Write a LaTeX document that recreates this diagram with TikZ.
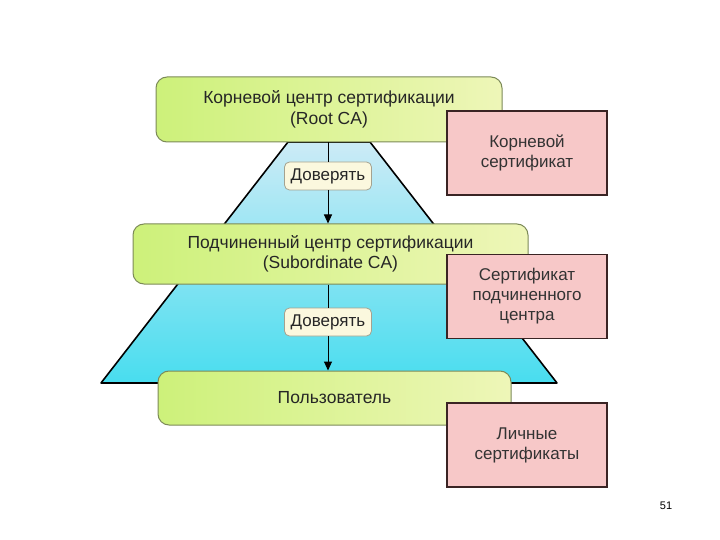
\documentclass[tikz,border=0pt]{standalone}
\usepackage{fontspec}
\setmainfont{Liberation Sans}
\usepackage{tikz}
\usetikzlibrary{arrows.meta}
\definecolor{boxgreenL}{HTML}{CDF17A}
\definecolor{boxgreenR}{HTML}{EEF6B8}
\definecolor{boxedge}{HTML}{7C8A58}
\definecolor{certpink}{HTML}{F7C8C8}
\definecolor{certedge}{HTML}{3A2424}
\definecolor{trustfill}{HTML}{FBF8DE}
\definecolor{trustedge}{HTML}{A4A290}
\definecolor{pyrtop}{HTML}{CCEBF6}
\definecolor{pyrbot}{HTML}{48DDEF}
\tikzstyle{cabox}=[draw=boxedge,line width=1pt,rounded corners=11pt,left color=boxgreenL,right color=boxgreenR,align=center,font=\fontsize{17.5}{20.5}\selectfont,text=black!85]
\tikzstyle{certbox}=[draw=certedge,line width=1.6pt,fill=certpink,minimum width=160pt,minimum height=84pt,align=center,font=\fontsize{17}{20}\selectfont,text=black!80]
\tikzstyle{trustbox}=[draw=trustedge,line width=0.8pt,rounded corners=5pt,fill=trustfill,minimum width=87pt,minimum height=28pt,font=\fontsize{17}{20}\selectfont,text=black!85]

\begin{document}
\begin{tikzpicture}[x=1pt,y=-1pt]
\useasboundingbox (0,0) rectangle (720,540);
% pyramid behind the boxes
\shade[top color=pyrtop,bottom color=pyrbot,draw=black,line width=1.6pt,line join=round] (288,142)--(370,142)--(557,383)--(101,383)--cycle;
% centres
\node[cabox,minimum width=346pt,minimum height=65pt] (root) at (329,109.5) {Корневой центр сертификации\\(Root CA)};
\node[cabox,minimum width=395pt,minimum height=60pt] (sub) at (330.5,254) {Подчиненный центр сертификации\\(Subordinate CA)};
\node[cabox,minimum width=353pt,minimum height=54pt] (user) at (334.5,398) {Пользователь};
% certificates
\node[certbox] (rootcert) at (527,153) {Корневой\\сертификат};
\node[certbox] (subcert) at (527,296.5) {Сертификат\\подчиненного\\центра};
\node[certbox] (usercert) at (527,445) {Личные\\сертификаты};
% trust arrows
\node[trustbox] (trust1) at (328,176) {Доверять};
\node[trustbox] (trust2) at (328,322) {Доверять};
\draw[line width=1pt] (root.south -| trust1) -- (trust1.north);
\draw[line width=1pt,-{Triangle[length=9pt,width=8pt]}] (trust1.south) -- (trust1 |- sub.north);
\draw[line width=1pt] (sub.south -| trust2) -- (trust2.north);
\draw[line width=1pt,-{Triangle[length=9pt,width=8pt]}] (trust2.south) -- (trust2 |- user.north);
\node[font=\fontsize{11}{13}\selectfont] (pagenum) at (666,506) {51};
\end{tikzpicture}
\end{document}
